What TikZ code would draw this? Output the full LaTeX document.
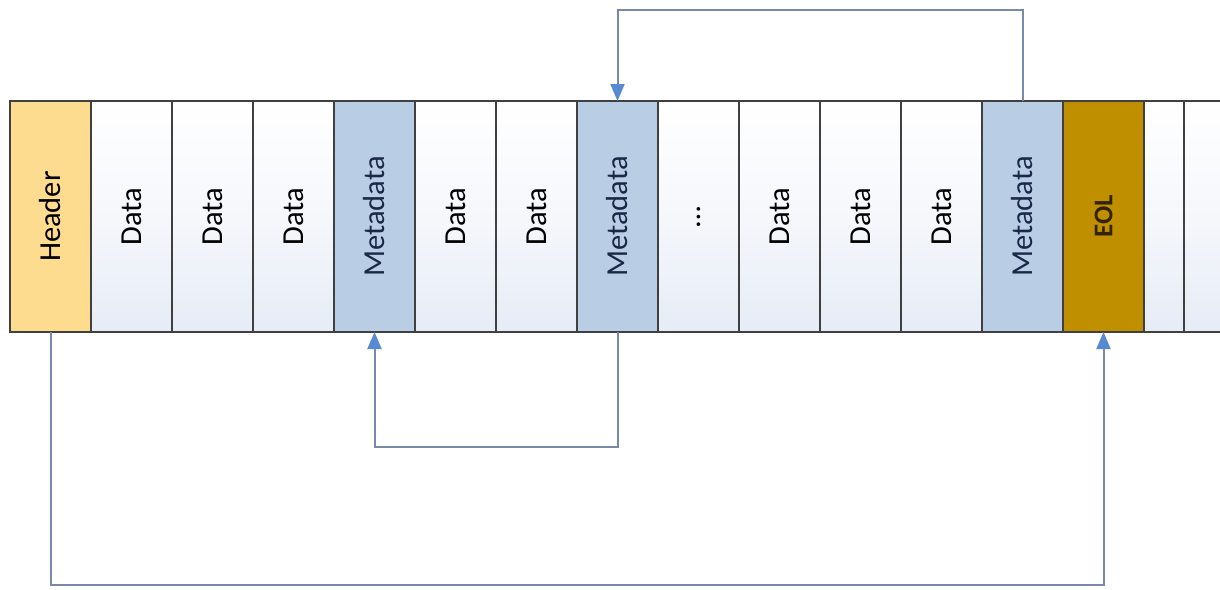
\documentclass[tikz,border=0pt]{standalone}
\usepackage{graphicx}
\usepackage{fontspec}
\setmainfont{Carlito}
\usetikzlibrary{arrows.meta,positioning}
\definecolor{Hd}{RGB}{253,220,143}
\definecolor{Md}{RGB}{185,205,229}
\definecolor{Eo}{RGB}{191,143,0}
\definecolor{Ln}{RGB}{64,64,64}
\definecolor{Cn}{RGB}{120,138,168}
\definecolor{Tp}{RGB}{88,138,212}
\definecolor{Dg}{RGB}{230,236,246}
\definecolor{Mt}{RGB}{25,40,70}
\definecolor{Et}{RGB}{50,35,0}

\tikzset{
  cell/.style={draw=Ln, line width=1.8pt, outer sep=0pt, inner sep=0pt,
    minimum width=81pt, minimum height=231pt, font=\fontsize{30.5}{32}\selectfont},
  datacell/.style={cell, top color=white, bottom color=Dg, middle color=white!60!Dg},
  headcell/.style={cell, fill=Hd},
  metacell/.style={cell, fill=Md, text=Mt},
  eolcell/.style={cell, fill=Eo, text=Et, font=\fontsize{27}{30}\selectfont\bfseries},
  conn/.style={draw=Cn, line width=2pt, -{Triangle[width=14pt,length=17pt,color=Tp]}}
}

\begin{document}
\begin{tikzpicture}[x=1pt,y=-1pt]
  \useasboundingbox (0,0) rectangle (1220,589);
  \clip (0,0) rectangle (1220,589);

  %# CELDAS
  \node[headcell, anchor=north west] (h) at (10,101) {\rotatebox{90}{Header}};
  \node[datacell, right=0pt of h] (d1) {\rotatebox{90}{Data}};
  \node[datacell, right=0pt of d1] (d2) {\rotatebox{90}{Data}};
  \node[datacell, right=0pt of d2] (d3) {\rotatebox{90}{Data}};
  \node[metacell, right=0pt of d3] (m1) {\rotatebox{90}{Metadata}};
  \node[datacell, right=0pt of m1] (d4) {\rotatebox{90}{Data}};
  \node[datacell, right=0pt of d4] (d5) {\rotatebox{90}{Data}};
  \node[metacell, right=0pt of d5] (m2) {\rotatebox{90}{Metadata}};
  \node[datacell, right=0pt of m2] (dots) {\rotatebox{90}{\dots}};
  \node[datacell, right=0pt of dots] (d6) {\rotatebox{90}{Data}};
  \node[datacell, right=0pt of d6] (d7) {\rotatebox{90}{Data}};
  \node[datacell, right=0pt of d7] (d8) {\rotatebox{90}{Data}};
  \node[metacell, right=0pt of d8] (m3) {\rotatebox{90}{Metadata}};
  \node[eolcell, right=0pt of m3] (eol) {\rotatebox{90}{EOL}};
  \node[datacell, minimum width=40pt, right=0pt of eol] (b1) {};
  \node[datacell, right=0pt of b1] (b2) {};

  %# ENLACES
  \coordinate (top) at (0,10);
  \coordinate (mid) at (0,447);
  \coordinate (bot) at (0,585);
  \draw[conn] (m3.north) -- (m3.north |- top) -| (m2.north);
  \draw[conn] (m2.south) -- (m2.south |- mid) -| (m1.south);
  \draw[conn] (h.south) -- (h.south |- bot) -| (eol.south);
\end{tikzpicture}
\end{document}
